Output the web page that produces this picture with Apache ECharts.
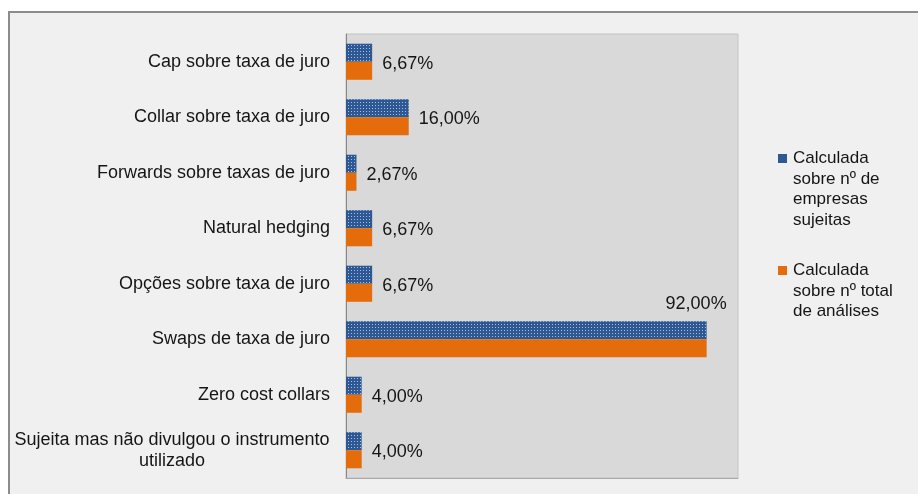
<!DOCTYPE html>
<html>
<head>
<meta charset="utf-8">
<script src="https://cdn.jsdelivr.net/npm/echarts@6/dist/echarts.min.js"></script>
<style>
  html, body { margin: 0; padding: 0; background: #ffffff; overflow: hidden; }
  #frame {
    position: absolute; left: 8px; top: 11px; width: 940px; height: 520px;
    background: #f0f0f0; border: 2px solid #8c8c8c; box-sizing: border-box;
  }
  #chart { position: absolute; left: 0; top: 0; width: 918px; height: 494px; }
</style>
</head>
<body>
<div id="frame"></div>
<div id="chart"></div>
<script>
// Instrumentos de cobertura do risco de taxa de juro
const categories = [
  'Cap sobre taxa de juro',
  'Collar sobre taxa de juro',
  'Forwards sobre taxas de juro',
  'Natural hedging',
  'Opções sobre taxa de juro',
  'Swaps de taxa de juro',
  'Zero cost collars',
  'Sujeita mas não divulgou o instrumento\nutilizado'
];
const sobreEmpresasSujeitas = [6.67, 16.00, 2.67, 6.67, 6.67, 92.00, 4.00, 4.00];
const sobreTotalAnalises = [6.67, 16.00, 2.67, 6.67, 6.67, 92.00, 4.00, 4.00];
const seriesNames = [
  'Calculada\nsobre nº de\nempresas\nsujeitas',
  'Calculada\nsobre nº total\nde análises'
];

const BLUE = '#2d5893';
const ORANGE = '#e46c0a';
const TEXT = '#151515';
const FONT = '"Liberation Sans", Arial, sans-serif';

const fmt = v => v.toFixed(2).replace('.', ',') + '%';

// value labels sit beside the pair of bars; very long bars get the label above
const labelledData = sobreEmpresasSujeitas.map(v => {
  const long = v > 80;
  return {
    value: v,
    label: long
      ? { position: ['100%', -17], align: 'right', verticalAlign: 'middle', offset: [20, 0] }
      : { position: ['100%', '100%'], align: 'left', verticalAlign: 'middle', offset: [10, 2] }
  };
});

// wrapped category names: each line centred inside a common block
const categoryFormatter = value => {
  if (value.indexOf('\n') < 0) return value;
  return value.split('\n').map(line => '{c|' + line + '}').join('\n');
};

const chart = echarts.init(document.getElementById('chart'), null, { renderer: 'canvas' });

const legendX = 778, textX = 793, lineH = 20.7;
const legendTops = [148, 260];
const legendColors = [BLUE, ORANGE];
const legendGraphics = [];
seriesNames.forEach((name, i) => {
  legendGraphics.push({
    type: 'rect', left: legendX, top: legendTops[i] + 6,
    shape: { width: 9, height: 9 },
    style: { fill: legendColors[i] }
  });
  legendGraphics.push({
    type: 'text', left: textX, top: legendTops[i],
    style: { text: name, font: '17px ' + FONT, fill: TEXT, lineHeight: lineH }
  });
});

chart.setOption({
  backgroundColor: 'transparent',
  animation: false,
  textStyle: { fontFamily: FONT },
  grid: {
    left: 346, right: 180, top: 34, bottom: 16,
    show: true, backgroundColor: '#d9d9d9', borderColor: '#c4c4c4', borderWidth: 1
  },
  xAxis: {
    type: 'value', min: 0, max: 100,
    axisLine: { show: true, lineStyle: { color: '#a8a8a8' } },
    axisTick: { show: false }, axisLabel: { show: false }, splitLine: { show: false }
  },
  yAxis: {
    type: 'category', data: categories, inverse: true,
    axisLine: { show: true, lineStyle: { color: '#878787', width: 1 } },
    axisTick: { show: false },
    axisLabel: {
      fontSize: 18, color: TEXT, margin: 16, lineHeight: 21, align: 'right',
      formatter: categoryFormatter,
      rich: { c: { width: 316, align: 'center', fontSize: 18, lineHeight: 21, color: TEXT } }
    }
  },
  series: [
    {
      name: seriesNames[0], type: 'bar', data: labelledData,
      barGap: '0%', barCategoryGap: '35%',
      itemStyle: {
        color: BLUE,
        decal: { symbol: 'rect', symbolSize: 1, color: 'rgba(190,210,235,0.85)', dashArrayX: [1, 2], dashArrayY: [1, 2], rotation: 0 }
      },
      label: {
        show: true, fontSize: 18, color: TEXT,
        formatter: p => fmt(p.value)
      }
    },
    {
      name: seriesNames[1], type: 'bar', data: sobreTotalAnalises,
      barGap: '0%', barCategoryGap: '35%',
      itemStyle: { color: ORANGE }
    }
  ],
  graphic: legendGraphics
});
</script>
</body>
</html>
